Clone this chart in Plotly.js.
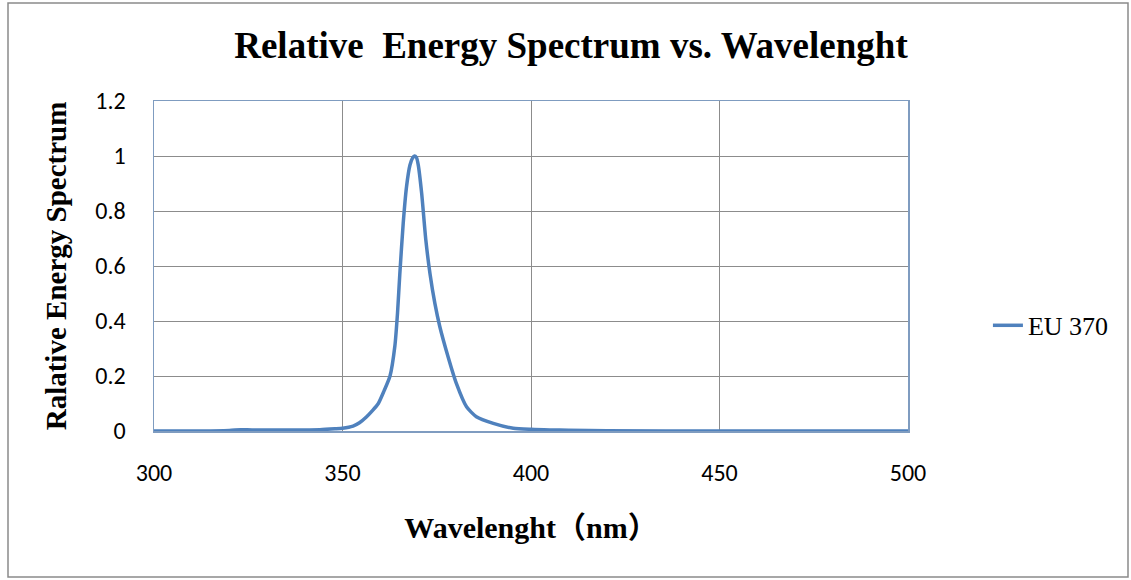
<!DOCTYPE html>
<html>
<head>
<meta charset="utf-8">
<script src="https://cdn.plot.ly/plotly-3.0.1.min.js"></script>
<style>
html,body{margin:0;padding:0;background:#fff;}
#chart{width:1131px;height:580px;}
</style>
</head>
<body>
<div id="chart"></div>
<script>
const chartTitle = "Relative  Energy Spectrum vs. Wavelenght";
const xAxisTitle = "Wavelenght（nm）";
const yAxisTitle = "Ralative Energy Spectrum";
const seriesName = "EU 370";

const wavelength = [300, 310, 320, 323, 326, 335, 344, 348, 350, 352.8, 354.5, 356.4, 358, 359.5, 361, 362.6, 363.9, 364.6, 365.2, 366.1, 367.0, 367.9, 368.6, 369.1, 369.6, 370.1, 371.0, 372.1, 373.2, 374.5, 375.8, 378.0, 380.2, 382.9, 385.5, 390.0, 395.3, 400, 405, 410, 420, 450, 500];
const intensity  = [0, 0, 0.002, 0.005, 0.004, 0.004, 0.005, 0.008, 0.01, 0.018, 0.03, 0.052, 0.075, 0.10, 0.145, 0.20, 0.31, 0.43, 0.57, 0.755, 0.89, 0.967, 0.993, 1.0, 0.995, 0.967, 0.864, 0.695, 0.573, 0.464, 0.38, 0.27, 0.173, 0.088, 0.052, 0.028, 0.01, 0.006, 0.004, 0.003, 0.001, 0, 0];

const xTicks = [300, 350, 400, 450, 500];
const yTicks = [0, 0.2, 0.4, 0.6, 0.8, 1, 1.2];
const yTickLabels = ["0", "0.2", "0.4", "0.6", "0.8", "1", "1.2"];

const serif = "'Times New Roman', 'Liberation Serif', 'Noto Sans CJK SC', serif";
const sans = "Carlito, 'Open Sans', 'Liberation Sans', sans-serif";

const trace = {
  x: wavelength,
  y: intensity,
  type: "scatter",
  mode: "lines",
  name: seriesName,
  line: {color: "#4f81bd", width: 3.5, shape: "spline", smoothing: 0.6}
};

const layout = {
  width: 1131,
  height: 580,
  paper_bgcolor: "#ffffff",
  plot_bgcolor: "#ffffff",
  margin: {l: 154, r: 223, t: 101, b: 149, pad: 0},
  title: {
    text: "<b>" + chartTitle + "</b>",
    font: {family: serif, size: 37, color: "#000"},
    x: 0.553, xref: "paper", xanchor: "center",
    y: 0.922, yref: "container", yanchor: "middle"
  },
  showlegend: true,
  legend: {
    x: 1.106, xanchor: "left", y: 0.32, yanchor: "middle",
    font: {family: serif, size: 26, color: "#000"},
    bgcolor: "rgba(0,0,0,0)", borderwidth: 0,
    itemwidth: 30
  },
  xaxis: {
    range: [300, 500],
    tickmode: "array", tickvals: xTicks, ticktext: xTicks.map(String),
    showgrid: true, gridcolor: "#8c8c8c", gridwidth: 1,
    zeroline: false,
    showline: true, linecolor: "#7f9cc0", linewidth: 1.5, mirror: true,
    ticks: "outside", ticklen: 0, ticklabelstandoff: 20,
    tickfont: {family: sans, size: 24, color: "#000"},
    title: {text: "<b>" + xAxisTitle + "</b>", font: {family: serif, size: 30, color: "#000"}, standoff: 30},
    automargin: false
  },
  yaxis: {
    range: [0, 1.2],
    tickmode: "array", tickvals: yTicks, ticktext: yTickLabels,
    showgrid: true, gridcolor: "#8c8c8c", gridwidth: 1,
    zeroline: false,
    showline: true, linecolor: "#7f9cc0", linewidth: 1.5, mirror: true,
    ticks: "outside", ticklen: 0, ticklabelstandoff: 22,
    tickfont: {family: sans, size: 24, color: "#000"},
    title: {text: "<b>" + yAxisTitle + "</b>", font: {family: serif, size: 29, color: "#000"}, standoff: 20},
    automargin: false
  },
  shapes: [{
    type: "rect", xref: "paper", yref: "paper",
    x0: (8 - 154) / 754, x1: (1128 - 154) / 754,
    y0: (431 - 577) / 330, y1: (431 - 3) / 330,
    line: {color: "#8a8a8a", width: 1.5}, fillcolor: "rgba(0,0,0,0)", layer: "below"
  }]
};

Plotly.newPlot("chart", [trace], layout, {displayModeBar: false, staticPlot: true});
</script>
</body>
</html>
